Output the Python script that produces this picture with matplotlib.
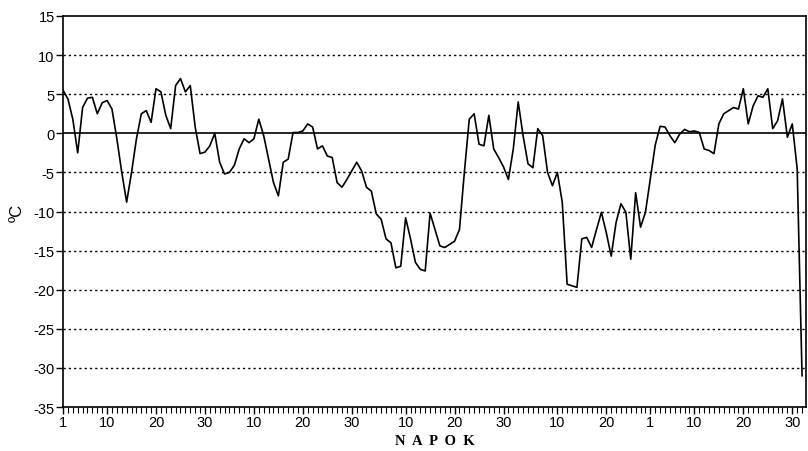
import numpy as np
import matplotlib
matplotlib.use("Agg")
import matplotlib.pyplot as plt

# daily mean temperature, Nov 1 .. Apr 1
nov = [5.5, 4.4, 1.8, -2.5, 3.3, 4.5, 4.6, 2.5, 3.9, 4.2,
       3.1, -0.7, -5.0, -8.8, -5.0, -0.7, 2.5, 2.9, 1.4, 5.7,
       5.3, 2.3, 0.6, 6.1, 7.0, 5.3, 6.1, 0.8, -2.6, -2.4]
dec = [-1.6, 0.0, -3.7, -5.2, -5.0, -4.1, -2.0, -0.7, -1.2, -0.7,
       1.8, -0.3, -3.3, -6.3, -8.0, -3.7, -3.3, 0.1, 0.1, 0.3,
       1.2, 0.8, -2.0, -1.6, -2.9, -3.1, -6.3, -6.9, -5.9, -4.8, -3.7]
jan = [-4.8, -6.9, -7.4, -10.3, -11.0, -13.5, -14.0, -17.2, -17.0, -10.8,
       -13.5, -16.5, -17.4, -17.6, -10.2, -12.3, -14.4, -14.6, -14.2, -13.8,
       -12.3, -5.0, 1.8, 2.5, -1.4, -1.6, 2.3, -2.0, -3.1, -4.3, -5.9]
feb = [-2.0, 4.0, -0.3, -3.9, -4.4, 0.6, -0.3, -5.0, -6.7, -5.0,
       -8.8, -19.3, -19.5, -19.7, -13.5, -13.3, -14.6, -12.3, -10.1, -12.7,
       -15.7, -11.4, -9.0, -10.1, -16.1, -7.6, -12.0, -10.1]
mar = [-5.8, -1.5, 0.9, 0.8, -0.3, -1.2, -0.1, 0.5, 0.2, 0.3,
       0.1, -2.0, -2.2, -2.6, 1.2, 2.5, 2.9, 3.3, 3.1, 5.7,
       1.2, 3.5, 4.8, 4.6, 5.7, 0.6, 1.6, 4.4, -0.5, 1.2, -4.5]
apr = [-31.0]

tick_days = [0, 9, 19, 29, 39, 49, 59, 70, 80, 90, 101, 111, 120, 129, 139, 149]
tick_labels = ['1', '10', '20', '30', '10', '20', '30', '10', '20', '30',
               '10', '20', '1', '10', '20', '30']

temps = np.array(nov + dec + jan + feb + mar + apr)
days = np.arange(len(temps))

plt.rcParams['font.family'] = ['Liberation Sans', 'DejaVu Sans']
plt.rcParams['axes.unicode_minus'] = False

fig = plt.figure(figsize=(8.08, 4.52), dpi=100)
ax = fig.add_axes([0.078, 0.0973, 0.9195, 0.8651])

# dotted grid, solid zero line
for y in range(-30, 15, 5):
    if y == 0:
        ax.axhline(0, color='black', linewidth=1.2, zorder=1)
    else:
        ax.axhline(y, color='black', linewidth=1.0, linestyle=(0, (1.6, 2.2)), zorder=1)

ax.plot(days, temps, color='black', linewidth=1.2, zorder=2)

ax.set_xlim(0, 151.8)
ax.set_ylim(-35, 15)
ax.set_yticks(range(-35, 20, 5))
ax.set_xticks(tick_days)
ax.set_xticklabels(tick_labels)
ax.set_xticks(days, minor=True)
ax.tick_params(axis='both', which='major', direction='out', length=5, width=1,
               labelsize=10.5, pad=1)
ax.tick_params(axis='x', which='minor', direction='out', length=4, width=0.8)

for s in ax.spines.values():
    s.set_linewidth(1.2)

ax.set_ylabel('ºC', fontsize=12, labelpad=6)
ax.set_xlabel('N  A  P  O  K', fontsize=10.5, fontweight='bold',
              family=['Liberation Serif', 'DejaVu Serif'], labelpad=3)

fig.savefig('out.png', dpi=100)
